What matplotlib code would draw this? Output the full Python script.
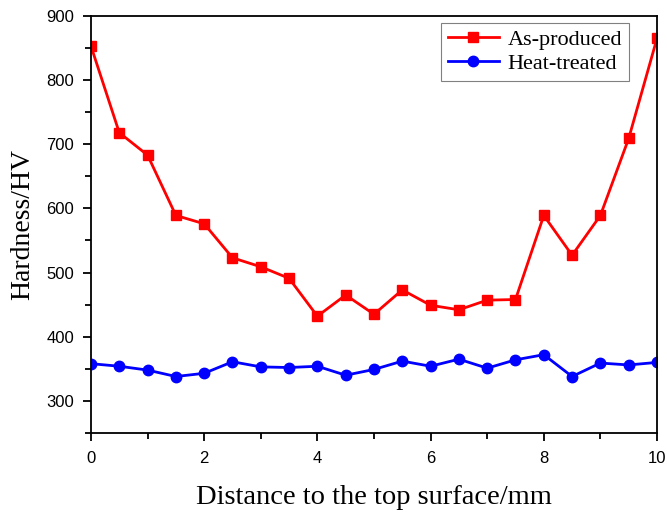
import matplotlib
matplotlib.use('Agg')
import matplotlib.pyplot as plt
from matplotlib.ticker import MultipleLocator

# distance from top surface (mm)
distance = [0, 0.5, 1, 1.5, 2, 2.5, 3, 3.5, 4, 4.5, 5, 5.5, 6, 6.5, 7, 7.5, 8, 8.5, 9, 9.5, 10]
as_produced = [853, 718, 683, 589, 576, 523, 509, 491, 432, 465, 435, 473, 449, 442, 457, 458, 589, 527, 589, 709, 865]
heat_treated = [358, 354, 348, 338, 343, 361, 353, 352, 354, 340, 349, 362, 354, 365, 351, 364, 372, 338, 359, 356, 360]

fig = plt.figure(figsize=(6.67, 5.13), dpi=100)
ax = fig.add_axes([0.1364, 0.156, 0.8486, 0.813])

ax.plot(distance, as_produced, color='red', marker='s', markersize=7, linewidth=2, label='As-produced')
ax.plot(distance, heat_treated, color='blue', marker='o', markersize=7.5, linewidth=2, label='Heat-treated')

ax.set_xlim(0, 10)
ax.set_ylim(250, 900)
ax.xaxis.set_major_locator(MultipleLocator(2))
ax.xaxis.set_minor_locator(MultipleLocator(1))
ax.yaxis.set_minor_locator(MultipleLocator(50))
ax.set_yticks(range(300, 901, 100))
ax.tick_params(which='both', direction='out', width=1.3, labelsize=12)
ax.tick_params(which='major', length=6)
ax.tick_params(which='minor', length=4)
ax.tick_params(axis='x', which='major', pad=7)
ax.tick_params(axis='y', which='major', pad=6)
for lab in ax.get_xticklabels() + ax.get_yticklabels():
    lab.set_family('Liberation Sans')
for sp in ax.spines.values():
    sp.set_linewidth(1.3)

ax.set_xlabel('Distance to the top surface/mm', family='Liberation Serif', fontsize=20.5, labelpad=14)
ax.set_ylabel('Hardness/HV', family='Liberation Serif', fontsize=20, labelpad=8)

leg = ax.legend(loc='upper right', bbox_to_anchor=(0.95, 0.983),
                prop={'family': 'Liberation Serif', 'size': 16},
                fancybox=False, edgecolor='gray', framealpha=1, handlelength=2.3,
                borderaxespad=0, borderpad=0.3, labelspacing=0.15, handletextpad=0.4)
leg.get_frame().set_linewidth(0.8)

plt.savefig('out.png', dpi=100)
